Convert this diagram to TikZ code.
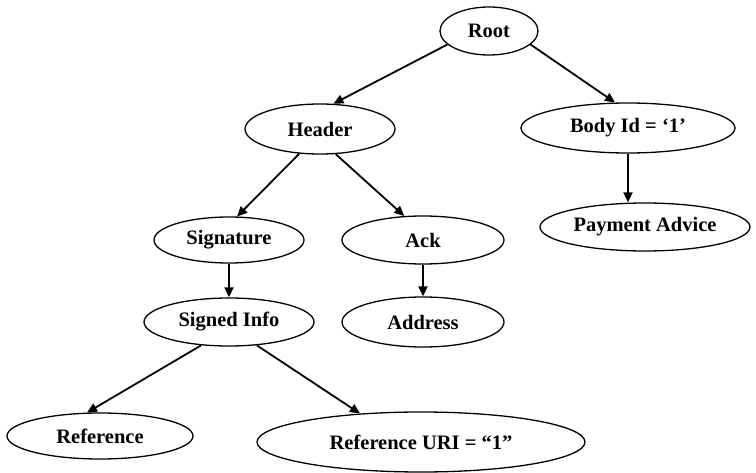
\documentclass[tikz,border=0pt]{standalone}
\usepackage{fontspec}
\setmainfont{Liberation Serif}
\usetikzlibrary{shapes.geometric,arrows.meta}

\tikzset{
  tnode/.style={draw, ellipse, line width=1.3pt, inner sep=0pt,
    font=\fontsize{20.5}{24}\selectfont\bfseries},
  arr/.style={line width=1.8pt, -{Triangle[length=10pt,width=9pt]}},
}

\begin{document}
\begin{tikzpicture}[x=1pt, y=-1pt]
  \useasboundingbox (0,0) rectangle (756,473);

  % tree nodes
  \node[tnode, minimum width=98pt,  minimum height=48pt] (root)   at (489,31)  {Root};
  \node[tnode, minimum width=150pt, minimum height=50pt] (header) at (320,129) {Header};
  \node[tnode, minimum width=214pt, minimum height=50pt] (body)   at (628,128) {Body Id = ‘1’};
  \node[tnode, minimum width=150pt, minimum height=46pt] (sig)    at (229,240) {Signature};
  \node[tnode, minimum width=162pt, minimum height=48pt] (ack)    at (423,240) {Ack};
  \node[tnode, minimum width=210pt, minimum height=48pt] (pay)    at (645,227) {Payment Advice};
  \node[tnode, minimum width=170pt, minimum height=48pt] (signed) at (229,322) {Signed Info};
  \node[tnode, minimum width=162pt, minimum height=50pt] (addr)   at (423,322) {Address};
  \node[tnode, minimum width=186pt, minimum height=46pt] (ref)    at (100,436) {Reference};
  \node[tnode, minimum width=328pt, minimum height=60pt] (uri)    at (421,442) {Reference URI = “1”};

  % parent-child edges
  \draw[arr] (root.198)   -- (header.62);
  \draw[arr] (root.-18)   -- (body.117);
  \draw[arr] (header.230) -- (sig.71);
  \draw[arr] (header.-58) -- (ack.128);
  \draw[arr] (sig.south)  -- (signed.north);
  \draw[arr] (ack.south)  -- (addr.north);
  \draw[arr] (body.south) -- (body.south |- pay.north);
  \draw[arr] (signed.220) -- (ref.119);
  \draw[arr] (signed.-40) -- (uri.155);
\end{tikzpicture}
\end{document}
